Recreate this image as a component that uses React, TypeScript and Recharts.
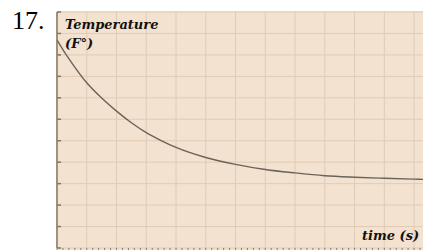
import { LineChart, Line, XAxis, YAxis, CartesianGrid } from "recharts"

// time in grid columns, temperature in grid rows
const times = [0, 0.3, 0.5, 1, 1.5, 2, 2.5, 3, 3.5, 4, 5, 6, 7, 8, 9, 10, 11, 12, 12.3]
const temps = [9.7, 9.02, 8.62, 7.7, 6.99, 6.38, 5.84, 5.38, 5.01, 4.69, 4.22, 3.9, 3.66, 3.5, 3.37, 3.3, 3.25, 3.21, 3.2]
const majorX = [0, 1, 2, 3, 4, 5, 6, 7, 8, 9, 10, 11, 12]
const majorY = [0, 1, 2, 3, 4, 5, 6, 7, 8, 9, 10, 11]
const minorX = Array.from({ length: 62 }, (_, i) => Math.round(i * 20) / 100)

const data = times.map((t, i) => ({ t, temp: temps[i] }))

const bg = "#f3e2cf"
const gridColor = "#e0cbb6"
const axisColor = "#857564"
const labelFont = "'DejaVu Serif', serif"

export default function App() {
  return (
    <div style={{ position: "fixed", left: 0, top: 0, width: 423, height: 250, background: "#fff" }}>
      <div style={{ position: "absolute", left: 58, top: 11, width: 365, height: 239, background: bg }} />
      <div
        style={{
          position: "absolute",
          left: 12,
          top: 6,
          fontFamily: "'Liberation Serif', 'Times New Roman', serif",
          fontSize: 26,
          lineHeight: "30px",
          color: "#000",
        }}
      >
        17.
      </div>
      <div style={{ position: "absolute", left: 0, top: 0 }}>
        <LineChart width={423} height={250} data={data} margin={{ top: 12, right: 0, left: 57, bottom: 0 }}>
          <CartesianGrid
            stroke={gridColor}
            strokeWidth={1}
            verticalValues={majorX}
            horizontalValues={majorY}
          />
          <XAxis
            dataKey="t"
            type="number"
            domain={[0, 12.3]}
            ticks={minorX}
            interval={0}
            axisLine={false}
            tickLine={{ stroke: "#8a7b6c", strokeWidth: 1 }}
            tickSize={3}
            tickFormatter={() => ""}
            height={2}
          />
          <YAxis
            type="number"
            domain={[0, 11]}
            ticks={majorY}
            width={1}
            mirror
            axisLine={{ stroke: axisColor, strokeWidth: 1.5 }}
            tickLine={{ stroke: axisColor, strokeWidth: 1.5 }}
            tickSize={4}
            tickFormatter={() => ""}
          />
          <Line
            type="monotone"
            dataKey="temp"
            stroke="#6a635b"
            strokeWidth={1.4}
            dot={false}
            isAnimationActive={false}
          />
        </LineChart>
      </div>
      <svg width={423} height={250} style={{ position: "absolute", left: 0, top: 0, pointerEvents: "none" }}>
        <text x={65} y={29} fontFamily={labelFont} fontSize={13} fontWeight="bold" fontStyle="italic" fill="#111">
          Temperature
        </text>
        <text x={65} y={48} fontFamily={labelFont} fontSize={13} fontWeight="bold" fontStyle="italic" fill="#111">
          (F°)
        </text>
        <text x={362} y={240} fontFamily={labelFont} fontSize={13} fontWeight="bold" fontStyle="italic" fill="#111">
          time (s)
        </text>
      </svg>
    </div>
  )
}
